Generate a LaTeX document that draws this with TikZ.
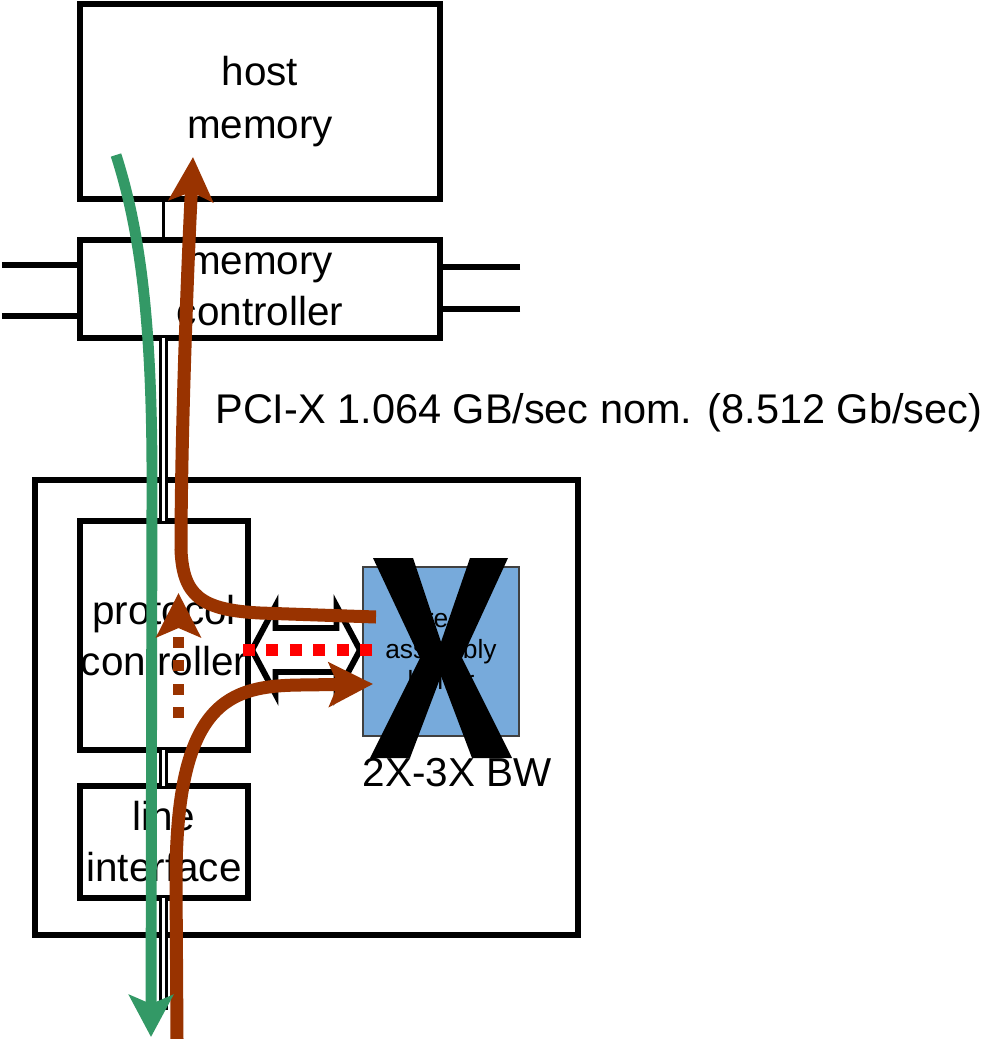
\documentclass[tikz,border=0pt]{standalone}
\usepackage{fontspec}
\setmainfont{Liberation Sans}
\usetikzlibrary{arrows.meta, positioning, calc}
\definecolor{cbrown}{HTML}{993300}
\definecolor{cgreen}{HTML}{339966}
\definecolor{cblue}{HTML}{77AADB}
\definecolor{cred}{HTML}{FF0000}
\tikzset{
  every picture/.style={font=\fontsize{23}{29}\selectfont},
  box/.style={draw=black, fill=white, line width=3.4pt, align=center, inner sep=0pt, outer sep=0pt},
  bus/.style={double, double distance=1.2pt, line width=2.1pt},
  wire/.style={line width=3.4pt},
  flow/.style={draw=#1, line width=7.4pt, -{Stealth[length=8.8mm, width=8.8mm, inset=1.8mm]}},
  flow/.default=cbrown,
  caption/.style={align=center, inner sep=0pt},
}
\begin{document}
\begin{tikzpicture}[small/.style={font=\fontsize{15}{17.6}\selectfont}]
  \useasboundingbox (0,0) rectangle (19.66,-20.78);
  % host side
  \node[box, minimum width=7.2cm, minimum height=3.9cm, font=\fontsize{23}{30}\selectfont] (hm) at (5.2,-2.03) {host\\memory};
  \node[box, minimum width=7.2cm, minimum height=1.96cm] (mc) at (5.2,-5.78) {memory\\controller};
  \coordinate (bus) at (3.27,-20.2);
  \draw[line width=1.5pt] (hm.south -| bus) -- (mc.north -| bus);
  \coordinate (sl1) at (0.04,-5.3);
  \coordinate (sl2) at (0.04,-6.32);
  \coordinate (sr1) at (10.4,-5.34);
  \coordinate (sr2) at (10.4,-6.18);
  \foreach \s in {sl1, sl2} \draw[wire] (\s) -- (\s -| mc.west);
  \foreach \s in {sr1, sr2} \draw[wire] (\s) -- (\s -| mc.east);
  % the card
  \node[box, minimum width=10.86cm, minimum height=9.1cm] (card) at (6.13,-14.15) {};
  \node[box, minimum width=3.36cm, minimum height=4.58cm] (pc) at (3.28,-12.71) {protocol\\controller};
  \node[box, minimum width=3.36cm, minimum height=2.24cm] (li) at (3.28,-16.84) {line\\interface};
  \draw[bus] (mc.south -| bus) -- (pc.north -| bus);
  \draw[bus] (pc.south -| bus) -- (li.north -| bus);
  \draw[bus] (li.south -| bus) -- (bus);
  \node[box, fill=cblue, draw=black!75, line width=0.8pt, minimum width=3.12cm, minimum height=3.38cm, small] (buf) at (8.82,-13.03) {re-\\assembly\\buffer};
  % hollow link
  \coordinate (mid) at (6.12,-13.0);
  \draw[wire, fill=white, line join=miter] (5.04,-13.0) -- (5.51,-12.12) -- (5.51,-12.56) -- (6.73,-12.56) -- (6.73,-12.12)
    -- (7.2,-13.0) -- (6.73,-13.88) -- (6.73,-13.44) -- (5.51,-13.44) -- (5.51,-13.88) -- cycle;
  \draw[cred, line width=6.8pt, dash pattern=on 2.4mm off 2.28mm, shorten <=-1mm, shorten >=-1.8mm] (pc.east |- mid) -- (buf.west |- mid);
  % data flows
  \coordinate (upin) at (7.52,-12.34);
  \coordinate (hmin) at (3.86,-3.14);
  \draw[flow] (upin) -- (5.2,-12.26) .. controls (4.0,-12.2) and (3.66,-11.9) .. (3.62,-11.0)
    .. controls (3.62,-9.0) and (3.72,-6.0) .. (hmin);
  \coordinate (lnin) at (3.54,-20.78);
  \coordinate (bufin) at (7.46,-13.68);
  \draw[flow] (lnin) -- (3.52,-17.6) .. controls (3.52,-14.0) and (4.6,-13.72) .. (6.0,-13.7) -- (bufin);
  \coordinate (hmout) at (2.32,-3.1);
  \coordinate (lnout) at (3.02,-20.74);
  \draw[flow=cgreen, line width=6.2pt, -{Stealth[length=8.4mm, width=8.8mm, inset=1.8mm]}]
    (hmout) .. controls (2.8,-4.6) and (3.04,-6.4) .. (3.04,-9.6) -- (lnout);
  \coordinate (pcup) at (3.57,-14.36);
  \coordinate (pctop) at (3.57,-11.86);
  \draw[flow, line width=6.2pt, dash pattern=on 2.2mm off 2.5mm] (pcup) -- (pctop);
  % cross-out
  \fill (7.46,-11.16) -- (8.26,-11.16) -- (8.82,-12.84) -- (9.4,-11.16) -- (10.16,-11.16) -- (9.24,-13.16)
    -- (10.24,-15.16) -- (9.44,-15.16) -- (8.82,-13.52) -- (8.2,-15.16) -- (7.4,-15.16) -- (8.4,-13.16) -- cycle;
  \node[caption] (bw) at (9.14,-15.46) {2X-3X BW};
  \node[caption, anchor=base west, font=\fontsize{23.6}{29}\selectfont] (pci) at (4.3,-8.46) {PCI-X 1.064 GB/sec nom. (8.512 Gb/sec)};
\end{tikzpicture}
\end{document}
